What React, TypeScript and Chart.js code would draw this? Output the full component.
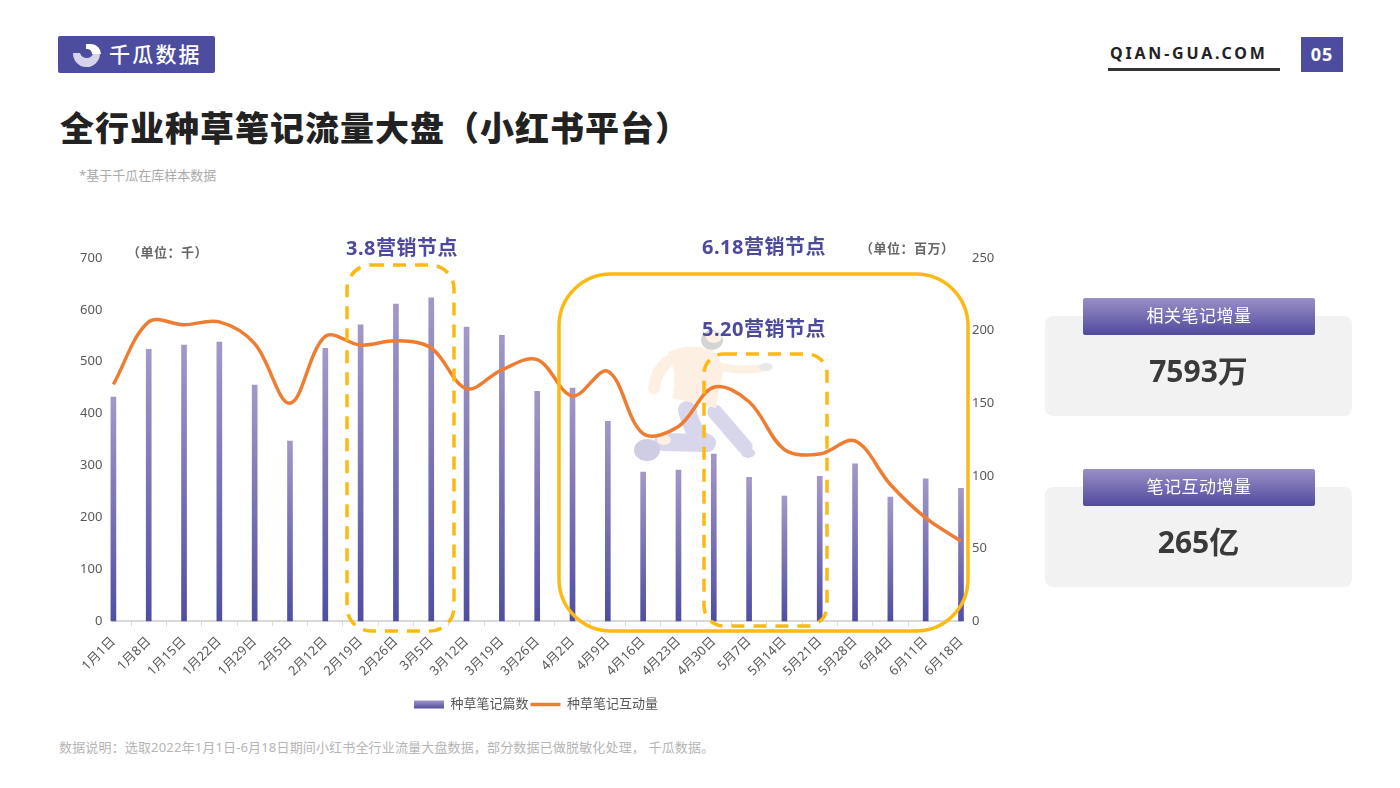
import { useEffect, useRef } from "react";
import type { CSSProperties } from "react";
import { Chart, registerables } from "chart.js";

Chart.register(...registerables);

const FONT = '"Noto Sans", "Noto Sans CJK SC", sans-serif';
const PURPLE = "#4d4d9f";
const YELLOW = "#fdb913";
const ORANGE = "#ee7d31";

const categories = [
  "1月1日", "1月8日", "1月15日", "1月22日", "1月29日", "2月5日", "2月12日", "2月19日", "2月26日",
  "3月5日", "3月12日", "3月19日", "3月26日", "4月2日", "4月9日", "4月16日", "4月23日", "4月30日",
  "5月7日", "5月14日", "5月21日", "5月28日", "6月4日", "6月11日", "6月18日",
];
const noteCounts = [
  432, 524, 532, 538, 455, 347, 526, 571, 611, 623, 567, 551, 443,
  449, 385, 287, 291, 322, 277, 241, 279, 303, 239, 274, 256,
];
const interactions = [
  163, 206, 204, 206, 191, 150, 196, 190, 193, 188, 160, 173, 180,
  155, 172, 129, 134, 161, 151, 118, 115, 124, 94, 71, 55,
];

const CANVAS_TOP = 230;

// yellow highlight frames, page coordinates
const frames = [
  { x: 347, y: 265, w: 107, h: 366, r: 24, dashed: true },
  { x: 559, y: 274, w: 409, h: 357, r: 52, dashed: false },
  { x: 704, y: 354, w: 123, h: 272, r: 20, dashed: true },
];

const framesPlugin = {
  id: "frames",
  afterDatasetsDraw(chart: Chart) {
    const ctx = chart.ctx;
    ctx.save();
    ctx.strokeStyle = YELLOW;
    ctx.lineWidth = 3.5;
    for (const f of frames) {
      ctx.setLineDash(f.dashed ? [13, 9] : []);
      ctx.beginPath();
      ctx.roundRect(f.x, f.y - CANVAS_TOP, f.w, f.h, f.r);
      ctx.stroke();
    }
    ctx.restore();
  },
};

function Label({ x, y, style, children }: { x: number; y: number; style?: CSSProperties; children: any }) {
  return (
    <div style={{ position: "absolute", left: x, top: y, whiteSpace: "nowrap", lineHeight: 1, transform: "translateY(-50%)", ...style }}>
      {children}
    </div>
  );
}

function Card({ top, title, value }: { top: number; title: string; value: string }) {
  return (
    <>
      <div style={{ position: "absolute", left: 1045, top: top + 18, width: 307, height: 100, background: "#f2f2f2", borderRadius: 8 }} />
      <div
        style={{
          position: "absolute", left: 1083, top, width: 232, height: 37, borderRadius: 2,
          background: "linear-gradient(#9a8fc6, #4f4b9d)", color: "#fff", fontSize: 17,
          lineHeight: "36px", textAlign: "center", letterSpacing: 0.5,
        }}
      >
        {title}
      </div>
      <div style={{ position: "absolute", left: 1045, top: top + 54, width: 307, height: 40, lineHeight: "38px", textAlign: "center", fontSize: 30, fontWeight: 700, color: "#3a3a3a" }}>
        {value}
      </div>
    </>
  );
}

export default function App() {
  const canvasRef = useRef<HTMLCanvasElement>(null);

  useEffect(() => {
    if (!canvasRef.current) return;
    Chart.defaults.font.family = FONT;
    const ctx = canvasRef.current.getContext("2d")!;

    const legendFill = ctx.createLinearGradient(0, 471, 0, 479);
    legendFill.addColorStop(0, "#9a8fc6");
    legendFill.addColorStop(1, "#4f4b9d");

    const chart = new Chart(ctx, {
      data: {
        labels: categories,
        datasets: [
          {
            type: "line",
            label: "种草笔记互动量",
            data: interactions,
            yAxisID: "y1",
            borderColor: ORANGE,
            borderWidth: 3.5,
            pointRadius: 0,
            tension: 0.35,
            order: 1,
          },
          {
            type: "bar",
            label: "种草笔记篇数",
            data: noteCounts,
            yAxisID: "y",
            barThickness: 5,
            clip: false,
            order: 2,
            // each bar fades from light at its top to dark at the axis
            backgroundColor: (c: any) => {
              const { scales } = c.chart;
              if (c.parsed?.y == null || !scales.y) return PURPLE;
              const g = c.chart.ctx.createLinearGradient(0, scales.y.getPixelForValue(c.parsed.y), 0, scales.y.getPixelForValue(0));
              g.addColorStop(0, "#a498c9");
              g.addColorStop(1, "#4f4ea3");
              return g;
            },
          },
        ] as any,
      },
      options: {
        responsive: false,
        animation: false,
        layout: { padding: { top: 28, bottom: 0 } },
        plugins: {
          tooltip: { enabled: false },
          legend: {
            position: "bottom",
            labels: {
              color: "#595959",
              font: { size: 13 },
              usePointStyle: true,
              pointStyleWidth: 30,
              boxHeight: 8,
              padding: 2,
              generateLabels: () => [
                { text: "种草笔记篇数", fontColor: "#595959", fillStyle: legendFill, strokeStyle: legendFill, lineWidth: 0, pointStyle: "rect", datasetIndex: 1 },
                { text: "种草笔记互动量", fontColor: "#595959", fillStyle: ORANGE, strokeStyle: ORANGE, lineWidth: 3.5, pointStyle: "line", datasetIndex: 0 },
              ] as any,
            },
          },
        },
        scales: {
          x: {
            offset: false,
            border: { color: "#d9d9d9", width: 2 },
            grid: { display: true, drawOnChartArea: false, drawTicks: true, tickLength: 5, color: "#d9d9d9" },
            ticks: { color: "#595959", font: { size: 13 }, maxRotation: 45, minRotation: 45, autoSkip: false, padding: 8 },
            afterFit: (s: any) => { s.height = 75; },
          },
          y: {
            position: "left",
            min: 0,
            max: 700,
            border: { display: false },
            grid: { display: false },
            ticks: { stepSize: 100, color: "#595959", font: { size: 13 }, padding: 3 },
            afterFit: (s: any) => { s.width = 113.4; },
          },
          y1: {
            position: "right",
            min: 0,
            max: 250,
            border: { display: false },
            grid: { display: false },
            ticks: { stepSize: 50, color: "#595959", font: { size: 13 }, padding: 3 },
            afterFit: (s: any) => { s.width = 111; },
          },
        },
      },
      plugins: [framesPlugin],
    } as any);

    return () => chart.destroy();
  }, []);

  const noteStyle: CSSProperties = { fontSize: 20, fontWeight: 700, color: "#4b4a9c", letterSpacing: 0.5 };
  const unitStyle: CSSProperties = { fontSize: 13, fontWeight: 700, color: "#666", letterSpacing: 0.5 };

  return (
    <div style={{ position: "absolute", left: 0, top: 0, width: 1400, height: 788, overflow: "hidden", background: "#fff", fontFamily: FONT }}>
      {/* header */}
      <div style={{ position: "absolute", left: 58, top: 36, width: 157, height: 37, background: PURPLE, borderRadius: 2 }} />
      <svg style={{ position: "absolute", left: 70, top: 40 }} width={34} height={30} viewBox="0 0 34 30">
        <path d="M3 13 A13 13 0 0 0 30 14 L23 14 A7 7 0 0 1 10 13 Z" fill="#d6d3ea" />
        <path d="M16 4 L21 4 A10 10 0 0 1 31 14 L22 14 A5 5 0 0 0 16 9 Z" fill="#fff" />
      </svg>
      <Label x={109} y={54} style={{ fontSize: 21, letterSpacing: 2.2, color: "#fff", fontWeight: 500 }}>千瓜数据</Label>
      <Label x={60} y={128} style={{ fontSize: 34, fontWeight: 900, color: "#222", letterSpacing: 1 }}>全行业种草笔记流量大盘（小红书平台）</Label>
      <Label x={79} y={175} style={{ fontSize: 13, color: "#aaa" }}>*基于千瓜在库样本数据</Label>
      <Label x={1110} y={53} style={{ fontSize: 16, fontWeight: 700, color: "#222", letterSpacing: 2.8 }}>QIAN-GUA.COM</Label>
      <div style={{ position: "absolute", left: 1108, top: 68, width: 172, height: 2.5, background: "#333" }} />
      <div style={{ position: "absolute", left: 1301, top: 37, width: 42, height: 35, background: PURPLE, color: "#fff", fontSize: 18, fontWeight: 700, lineHeight: "35px", textAlign: "center", letterSpacing: 1 }}>05</div>

      {/* runner illustration behind the chart */}
      <svg style={{ position: "absolute", left: 0, top: 0 }} width={1400} height={788}>
        <g fill="none" stroke="#d8d6ea" strokeLinecap="round" strokeLinejoin="round">
          <path d="M687 410 Q695 440 707 443 L663 442" strokeWidth={18} />
          <path d="M715 412 L745 447" strokeWidth={15} />
        </g>
        <ellipse cx={647} cy={450} rx={13} ry={11} fill="#cfcde4" />
        <ellipse cx={748} cy={453} rx={7} ry={5} fill="#d8d6ea" />
        <ellipse cx={664} cy={440} rx={7} ry={5} fill="#fdf0e2" />
        <path d="M668 352 Q690 342 712 350 Q728 365 720 385 L716 408 L672 398 Q678 375 668 352 Z" fill="#fdf0e2" />
        <g fill="none" stroke="#fdf0e2" strokeLinecap="round">
          <path d="M675 358 Q657 365 654 388" strokeWidth={12} />
          <path d="M715 366 Q745 372 762 368" strokeWidth={8} />
        </g>
        <ellipse cx={766} cy={367} rx={7} ry={4} fill="#e8e8e8" />
        <ellipse cx={712} cy={340} rx={11} ry={10} fill="#d4d4d4" />
        <ellipse cx={714} cy={337} rx={8} ry={6} fill="#fdf0e2" />
      </svg>

      <canvas ref={canvasRef} width={1072} height={491} style={{ position: "absolute", left: 0, top: CANVAS_TOP }} />

      <Label x={127} y={252} style={unitStyle}>（单位：千）</Label>
      <Label x={860} y={248} style={unitStyle}>（单位：百万）</Label>
      <Label x={346} y={248} style={noteStyle}>3.8营销节点</Label>
      <Label x={702} y={247} style={noteStyle}>6.18营销节点</Label>
      <Label x={702} y={329} style={noteStyle}>5.20营销节点</Label>

      <Card top={298} title="相关笔记增量" value="7593万" />
      <Card top={469} title="笔记互动增量" value="265亿" />

      <Label x={59} y={747} style={{ fontSize: 13, color: "#b5b5b5", letterSpacing: 0.16 }}>数据说明：选取2022年1月1日-6月18日期间小红书全行业流量大盘数据，部分数据已做脱敏化处理， 千瓜数据。</Label>
    </div>
  );
}
